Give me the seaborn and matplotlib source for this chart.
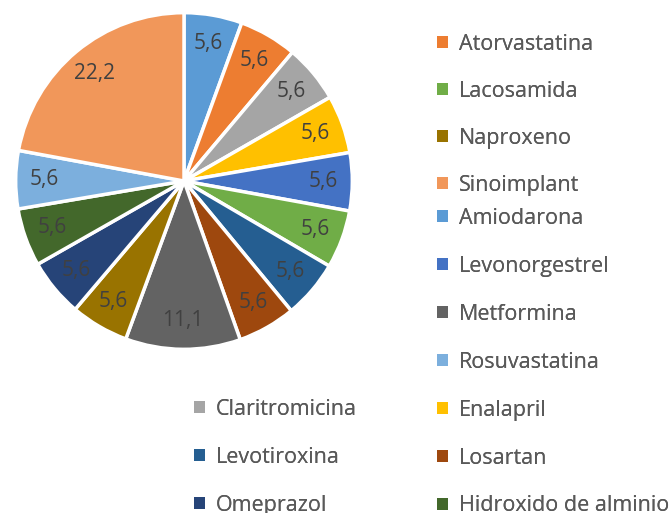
import matplotlib
matplotlib.use('Agg')
import matplotlib.pyplot as plt
import seaborn as sns
from matplotlib.patches import Patch

sns.set_theme(style='white')
plt.rcParams['font.family'] = ['Open Sans', 'DejaVu Sans']

# slices, clockwise from 12 o'clock
medicamentos = ['Amiodarona', 'Atorvastatina', 'Claritromicina', 'Enalapril',
                'Levonorgestrel', 'Lacosamida', 'Levotiroxina', 'Losartan',
                'Metformina', 'Naproxeno', 'Omeprazol', 'Hidroxido de alminio',
                'Rosuvastatina', 'Sinoimplant']
porcentajes = [5.6, 5.6, 5.6, 5.6, 5.6, 5.6, 5.6, 5.6, 11.1, 5.6, 5.6, 5.6, 5.6, 22.2]
colores = ['#5B9BD5', '#ED7D31', '#A5A5A5', '#FFC000', '#4472C4', '#70AD47',
           '#255E91', '#9E480E', '#636363', '#997300', '#264478', '#43682B',
           '#7CAFDD', '#F1975A']

# legend groups as they appear in the picture
ley_der_arriba = ['Atorvastatina', 'Lacosamida', 'Naproxeno', 'Sinoimplant']
ley_der_abajo = ['Amiodarona', 'Levonorgestrel', 'Metformina', 'Rosuvastatina',
                 'Enalapril', 'Losartan', 'Hidroxido de alminio']
ley_izq = ['Claritromicina', 'Levotiroxina', 'Omeprazol']

paleta = dict(zip(medicamentos, sns.color_palette(colores)))
etiquetas = [f'{v:.1f}'.replace('.', ',') for v in porcentajes]

fig = plt.figure(figsize=(6.7, 5.13), dpi=100)
ax = fig.add_axes([14 / 670, 161 / 513, 340 / 670, 342 / 513])
wedges, textos = ax.pie(porcentajes, labels=etiquetas,
                        colors=[paleta[m] for m in medicamentos],
                        startangle=90, counterclock=False, labeldistance=0.83,
                        wedgeprops=dict(edgecolor='white', linewidth=2.5))
for t in textos:
    t.set_color('#404040')
    t.set_fontsize(15)
    t.set_ha('center')
    t.set_va('center')
ax.set_xlim(-1.01, 1.01)
ax.set_ylim(-1.01, 1.01)


def leyenda(nombres, x, y, esp):
    handles = [Patch(facecolor=paleta[n], edgecolor='none') for n in nombres]
    lg = fig.legend(handles, nombres, loc='upper left', bbox_to_anchor=(x, y),
                    frameon=False, fontsize=15.5, labelcolor='#595959',
                    handlelength=0.5, handleheight=0.5, handletextpad=0.5,
                    labelspacing=esp, borderpad=0, borderaxespad=0)
    fig.add_artist(lg)


leyenda(ley_der_arriba, 437 / 670, 1 - 34 / 513, 1.2)
leyenda(ley_der_abajo, 437 / 670, 1 - 208 / 513, 1.25)
leyenda(ley_izq, 194 / 670, 1 - 399 / 513, 1.25)

fig.savefig('out.png', dpi=100)
